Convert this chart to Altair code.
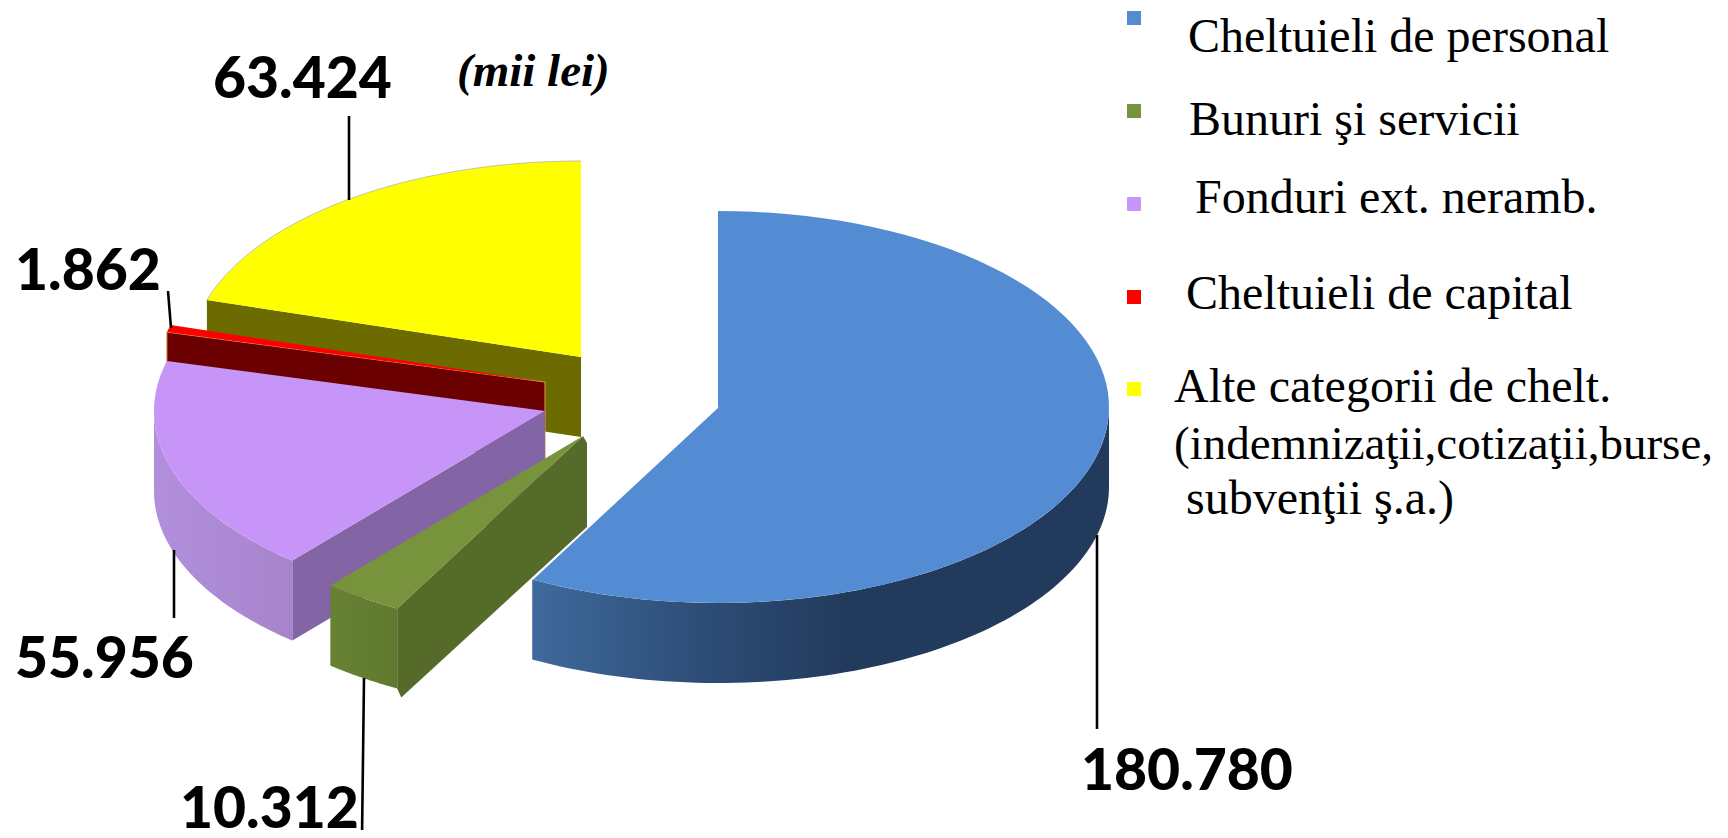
import math
import altair as alt

# ---- data ----
categories = ["Cheltuieli de personal", "Bunuri şi servicii", "Fonduri ext. neramb.",
              "Cheltuieli de capital", "Alte categorii de chelt."]
values = [180780, 10312, 55956, 1862, 63424]
value_labels = ["180.780", "10.312", "55.956", "1.862", "63.424"]
legend_lines = ["Cheltuieli de personal", "Bunuri şi servicii", "Fonduri ext. neramb.",
                "Cheltuieli de capital", "Alte categorii de chelt.",
                "(indemnizaţii,cotizaţii,burse,", "subvenţii ş.a.)"]
unit_label = "(mii lei)"

# ---- layout and style (page pixels) ----
MARGIN = 8
W, H = 1712, 822
RX, RY, DEPTH = 391, 196, 80
apex = [(718, 407), (583, 436), (545, 411), (545, 382), (581, 357)]
top_colors = ["#548cd4", "#77933c", "#c795f8", "#ff0000", "#ffff00"]
inner_wall_colors = [None, "#566a2a", "#8364a4", "#6b0000", "#6b6b00"]
outer_wall_stops = [
    [(0, "#3f6a9c"), (0.28, "#2e4e78"), (0.55, "#223a5c"), (1, "#223a5c")],
    [(0, "#688234"), (1, "#5f7a2e")],
    [(0, "#b18fdc"), (1, "#a884cc")],
]
legend_swatch_y = [18, 111, 204, 297, 389]
legend_text_x = [1188, 1189, 1195, 1186, 1174, 1174, 1186]
legend_text_y = [52, 135, 213, 309, 402, 459, 514]
legend_text_size = [48, 48, 48, 48, 48, 47, 48]
value_text_x = [1081, 180, 15, 15, 213]
value_text_y = [790, 828, 678, 290, 98]
leaders = [(1097, 535, 1097, 729), (364, 678, 362, 838), (174, 550, 174, 618),
           (171, 328, 168, 291), (349, 200, 349, 116)]

total = sum(values)
edges = [0.0]
for v in values:
    edges.append(edges[-1] + 360.0 * v / total)


def rim(i, a, b, dy=0, n=80):
    cx, cy = apex[i]
    pts = []
    for k in range(n + 1):
        t = math.radians(a + (b - a) * k / n)
        pts.append([cx + RX * math.sin(t) - MARGIN, cy - RY * math.cos(t) + dy - MARGIN])
    return pts


def p(pt, dx=0, dy=0):
    return [pt[0] + dx, pt[1] + dy]


def shape(coords, kind="Polygon", **mark):
    ring = coords if kind == "LineString" else [coords + [coords[0]]]
    feature = {"type": "Feature", "properties": {}, "geometry": {"type": kind, "coordinates": ring}}
    return alt.Chart(alt.Data(values=[feature])).mark_geoshape(**mark).project(
        type="identity", scale=1, translate=[0, 0])


def gradient(stops):
    return alt.LinearGradient(gradient="linear", x1=0, y1=0, x2=1, y2=0,
                              stops=[alt.GradientStop(offset=o, color=c) for o, c in stops])


def top(i, a, b, **kw):
    cx, cy = apex[i]
    return shape([[cx - MARGIN, cy - MARGIN]] + rim(i, a, b), fill=top_colors[i], strokeWidth=0, **kw)


def outer_wall(i, a, b):
    upper = rim(i, a, b)
    lower = rim(i, a, b, dy=DEPTH)
    return shape(upper + lower[::-1], fill=gradient(outer_wall_stops[i]), strokeWidth=0)


def inner_wall(i, angle, **kw):
    cx, cy = apex[i]
    c = [cx - MARGIN, cy - MARGIN]
    e = rim(i, angle, angle, n=1)[0]
    return shape([c, e, p(e, 0, DEPTH), p(c, 0, DEPTH)], fill=inner_wall_colors[i], **kw)


arc_line = dict(filled=False, stroke="#b5b5a8", strokeWidth=0.8)

layers = []
# yellow slice
layers += [inner_wall(4, edges[4], strokeWidth=0),
           top(4, edges[4], edges[5]),
           shape(rim(4, edges[4], edges[5]), kind="LineString", **arc_line)]
# red slice
layers += [inner_wall(3, edges[3], stroke="#e89a60", strokeWidth=1),
           top(3, edges[3], edges[4])]
# purple slice
layers += [inner_wall(2, edges[2], strokeWidth=0),
           outer_wall(2, edges[2], 270),
           top(2, edges[2], edges[3])]
# green slice, the inner wall sticks out a little to the right
gc = [apex[1][0] - MARGIN, apex[1][1] - MARGIN]
ge = rim(1, edges[1], edges[1], n=1)[0]
layers += [shape([gc, p(gc, 4, 7), p(gc, 4, 91), p(ge, 4, 89), p(ge, 0, DEPTH), ge],
                 fill=inner_wall_colors[1], strokeWidth=0),
           outer_wall(1, edges[1], edges[2]),
           top(1, edges[1], edges[2])]
# blue slice
bc = [apex[0][0] - MARGIN, apex[0][1] - MARGIN]
be = rim(0, edges[1], edges[1], n=1)[0]
layers += [outer_wall(0, 90, edges[1]),
           top(0, 0, edges[1]),
           shape([bc, be], kind="LineString", filled=False, stroke="#ffffff", strokeWidth=1.5)]

x_scale = alt.Scale(domain=[0, W], range=[0, W], nice=False, zero=False)
y_scale = alt.Scale(domain=[0, H], range=[0, H], nice=False, zero=False)
X = alt.X("x:Q", scale=x_scale, axis=None)
Y = alt.Y("y:Q", scale=y_scale, axis=None)

# leader lines
rule_rows = [{"x": a - MARGIN, "y": b - MARGIN, "x2": c - MARGIN, "y2": d - MARGIN} for a, b, c, d in leaders]
layers.append(alt.Chart(alt.Data(values=rule_rows)).mark_rule(color="#000000", strokeWidth=2.6).encode(
    x=X, y=Y, x2="x2:Q", y2="y2:Q"))

# value labels
value_rows = [{"x": a - MARGIN, "y": b - MARGIN, "t": t}
              for a, b, t in zip(value_text_x, value_text_y, value_labels)]
layers.append(alt.Chart(alt.Data(values=value_rows)).mark_text(
    font="Lato", fontWeight=900, fontSize=57, align="left", baseline="alphabetic", color="#000000"
).encode(x=X, y=Y, text="t:N"))

# unit
layers.append(alt.Chart(alt.Data(values=[{"x": 457 - MARGIN, "y": 86 - MARGIN, "t": unit_label}])).mark_text(
    font="Liberation Serif", fontWeight="bold", fontStyle="italic", fontSize=47, align="left",
    baseline="alphabetic", color="#000000").encode(x=X, y=Y, text="t:N"))

# legend
swatch_rows = [{"x": 1134 - MARGIN, "y": b - MARGIN, "c": c, "k": k}
               for b, c, k in zip(legend_swatch_y, top_colors, categories)]
layers.append(alt.Chart(alt.Data(values=swatch_rows)).mark_square(size=196, opacity=1).encode(
    x=X, y=Y, fill=alt.Fill("c:N", scale=None), stroke=alt.value(None)))
legend_rows = [{"x": a - MARGIN, "y": b - MARGIN, "t": t, "s": s}
               for a, b, t, s in zip(legend_text_x, legend_text_y, legend_lines, legend_text_size)]
layers.append(alt.Chart(alt.Data(values=legend_rows)).mark_text(
    font="Liberation Serif", align="left", baseline="alphabetic", color="#000000"
).encode(x=X, y=Y, text="t:N", size=alt.Size("s:Q", scale=None, legend=None)))

chart = alt.layer(*layers).resolve_scale(x="shared", y="shared").properties(
    width=W, height=H, padding=0, autosize=alt.AutoSizeParams(type="none"), background="#ffffff"
).configure_view(stroke=None)

chart.save("out.html", embed_options={"renderer": "svg", "actions": False})
